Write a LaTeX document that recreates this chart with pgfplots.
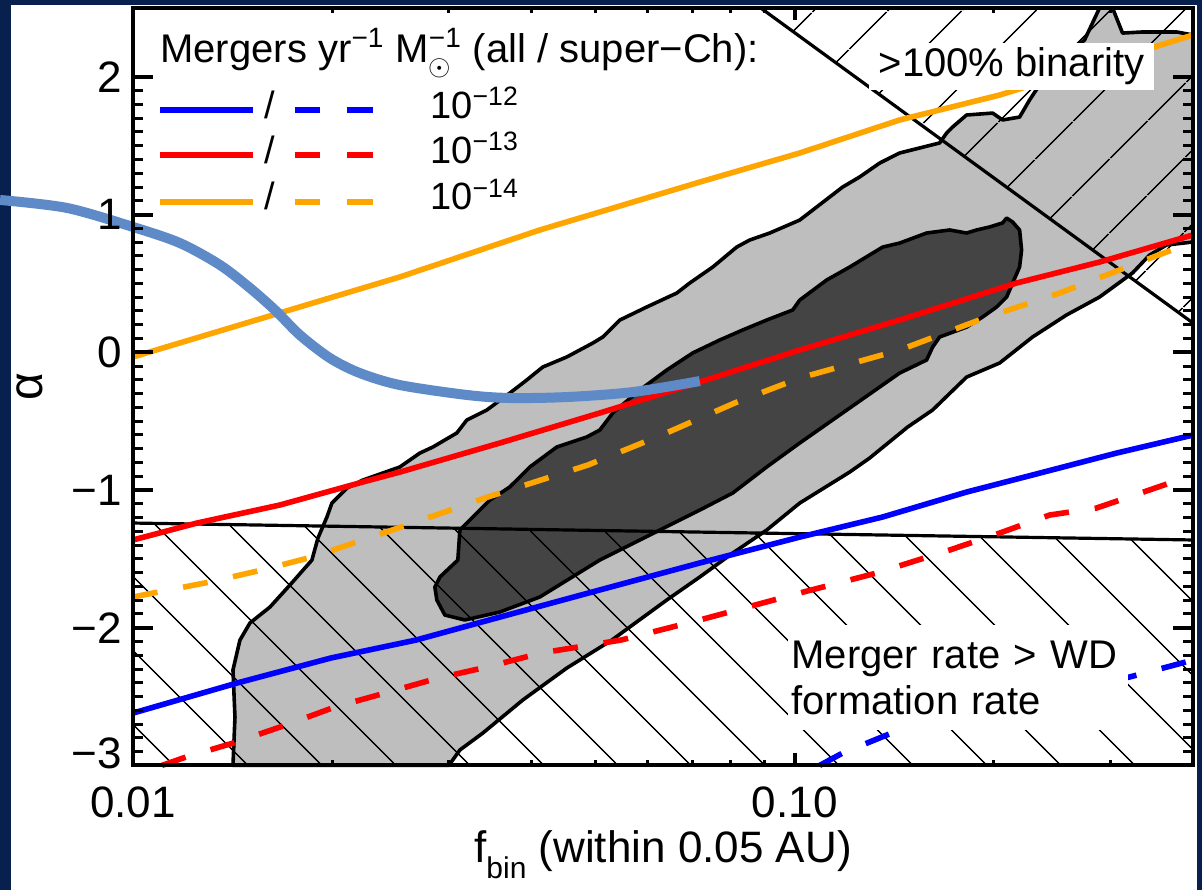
\documentclass[border=0pt]{standalone}
\usepackage{pgfplots}
\pgfplotsset{compat=1.18}
\usepackage{fontspec}
\setmainfont{Liberation Sans}
\usetikzlibrary{patterns.meta}
\definecolor{navybg}{RGB}{8,32,78}
\definecolor{lgray}{RGB}{190,190,190}
\definecolor{dgray}{RGB}{68,68,68}
\definecolor{orng}{RGB}{255,165,0}
\definecolor{steel}{RGB}{94,139,200}
\begin{document}
\begin{tikzpicture}
\fill[navybg] (0,0) rectangle (601pt,445pt);
\fill[white] (5.5pt,0) rectangle (598.5pt,442.5pt);
\path[use as bounding box] (0,0) rectangle (601pt,445pt);
\begin{axis}[
 at={(66.5pt,62.3pt)}, anchor=south west,
 scale only axis, width=530pt, height=378.7pt,
 xmin=-2, xmax=-0.398, ymin=-3, ymax=2.5,
 clip=false, axis on top,
 xtick=\empty,
 ytick={-3,-2,-1,0,1,2},
 yticklabels={\raisebox{12pt}{−3},−2,−1,0,1,2},
 minor y tick num=9,
 major tick length=10pt, minor tick length=5pt,
 tick align=inside,
 major tick style={line width=2pt,black},
 minor tick style={line width=1.5pt,black},
 axis line style={line width=2pt},
 yticklabel style={font=\fontsize{22pt}{22pt}\selectfont, xshift=-2pt},
 ylabel={α},
 ylabel style={font=\fontsize{24pt}{24pt}\selectfont, at={(axis description cs:-0.097,0.5)}, anchor=center},
]
% outer region
\addplot[fill=lgray, draw=black, line width=1.8pt, line join=round] coordinates {
(-1.8489,-3.000) (-1.8459,-2.649) (-1.8489,-2.307) (-1.8384,-2.090) (-1.8233,-1.966) (-1.7930,-1.850) (-1.7628,-1.690) (-1.7296,-1.509) (-1.7205,-1.349) (-1.7069,-1.196) (-1.6994,-1.095) (-1.6767,-0.986) (-1.6526,-0.928) (-1.5967,-0.833) (-1.5665,-0.732) (-1.5468,-0.688) (-1.5106,-0.586) (-1.4955,-0.492) (-1.4652,-0.419) (-1.4305,-0.296) (-1.4048,-0.201) (-1.3807,-0.107) (-1.3444,-0.034) (-1.3051,0.067) (-1.2900,0.111) (-1.2643,0.234) (-1.2235,0.329) (-1.1782,0.430) (-1.1586,0.503) (-1.1238,0.619) (-1.0876,0.764) (-1.0680,0.815) (-1.0377,0.866) (-0.9924,0.960) (-0.9275,1.200) (-0.9018,1.273) (-0.8716,1.374) (-0.8414,1.447) (-0.7809,1.520) (-0.7704,1.592) (-0.7613,1.636) (-0.7402,1.723) (-0.7009,1.737) (-0.6858,1.687) (-0.6601,1.708) (-0.6450,1.832) (-0.6148,2.050) (-0.5619,2.268) (-0.5393,2.5) (-0.5196,2.5) (-0.5045,2.318) (-0.4743,2.326) (-0.4229,2.326) (-0.398,2.304) (-0.398,0.801) (-0.4380,0.779) (-0.4637,0.706) (-0.4894,0.576) (-0.5393,0.401) (-0.5891,0.271) (-0.6405,0.111) (-0.6903,-0.078) (-0.7402,-0.180) (-0.7915,-0.419) (-0.8293,-0.543) (-0.8867,-0.768) (-0.9169,-0.870) (-0.9924,-1.095) (-1.0423,-1.291) (-1.0936,-1.458) (-1.1435,-1.632) (-1.1933,-1.799) (-1.2764,-2.090) (-1.3444,-2.293) (-1.4109,-2.525) (-1.4713,-2.765) (-1.5060,-2.888) (-1.5226,-3.000)
} -- cycle;
% inner region
\addplot[fill=dgray, draw=black, line width=1.8pt, line join=round] coordinates {
(-1.5408,-1.799) (-1.5438,-1.705) (-1.5362,-1.632) (-1.5091,-1.509) (-1.5060,-1.291) (-1.4607,-1.073) (-1.4305,-0.978) (-1.4003,-0.833) (-1.3595,-0.688) (-1.3142,-0.615) (-1.2946,-0.565) (-1.2749,-0.441) (-1.2341,-0.274) (-1.1933,-0.129) (-1.1541,-0.005) (-1.1133,0.089) (-1.0785,0.162) (-1.0423,0.234) (-1.0030,0.307) (-0.9924,0.379) (-0.9516,0.525) (-0.9169,0.619) (-0.8670,0.764) (-0.8414,0.793) (-0.8006,0.866) (-0.7658,0.888) (-0.7402,0.866) (-0.7251,0.888) (-0.7054,0.910) (-0.6858,0.939) (-0.6797,0.975) (-0.6707,0.946) (-0.6601,0.888) (-0.6571,0.743) (-0.6601,0.619) (-0.6797,0.401) (-0.6948,0.329) (-0.7160,0.256) (-0.7402,0.183) (-0.7809,0.111) (-0.7915,0.038) (-0.8006,-0.056) (-0.8414,-0.151) (-0.9169,-0.405) (-0.9924,-0.659) (-1.0423,-0.833) (-1.0936,-1.022) (-1.1435,-1.146) (-1.2039,-1.291) (-1.2946,-1.509) (-1.3852,-1.777) (-1.4456,-1.886) (-1.4985,-1.944) (-1.5287,-1.908)
} -- cycle;
% excluded regions (hatched)
\addplot[draw=none, pattern={Lines[angle=-45,distance=26.5pt,line width=0.8pt]}] coordinates {(-2,-1.240) (-0.398,-1.363) (-0.398,-3) (-2,-3)} -- cycle;
\addplot[draw=none, pattern={Lines[angle=45,distance=26.5pt,line width=0.8pt]}] coordinates {(-1.0513,2.5) (-0.398,2.5) (-0.398,0.212)} -- cycle;
\addplot[black, line width=1.6pt] coordinates {(-2,-1.240) (-0.398,-1.363)};
\addplot[black, line width=1.6pt] coordinates {(-1.0513,2.5) (-0.398,0.212)};
% merger-rate curves
\addplot[blue, line width=2.8pt] coordinates {(-2,-2.620) (-1.8429,-2.402) (-1.7009,-2.220) (-1.5725,-2.090) (-1.4456,-1.923) (-1.2946,-1.726) (-1.1435,-1.530) (-0.9924,-1.342) (-0.8670,-1.196) (-0.7402,-1.015) (-0.6405,-0.891) (-0.5136,-0.732) (-0.398,-0.601)};
\addplot[red, line width=2.8pt] coordinates {(-2,-1.363) (-1.9033,-1.240) (-1.7779,-1.109) (-1.6526,-0.942) (-1.5967,-0.870) (-1.4456,-0.659) (-1.2946,-0.441) (-1.1435,-0.216) (-0.9924,0.016) (-0.8414,0.234) (-0.6646,0.503) (-0.5393,0.655) (-0.398,0.852)};
\addplot[orng, line width=2.8pt] coordinates {(-2,-0.034) (-1.5967,0.547) (-1.3852,0.888) (-1.1435,1.236) (-0.9924,1.447) (-0.8414,1.687) (-0.6903,1.868) (-0.398,2.304)};
\addplot[orng, line width=2.8pt, dash pattern=on 12.5pt off 13pt] coordinates {(-2,-1.777) (-1.8837,-1.668) (-1.8051,-1.581) (-1.7296,-1.487) (-1.6526,-1.363) (-1.5770,-1.240) (-1.4637,-1.051) (-1.3127,-0.819) (-1.2009,-0.601) (-1.0906,-0.368) (-0.9924,-0.187) (-0.8414,0.016) (-0.7130,0.249) (-0.5997,0.430) (-0.4894,0.634) (-0.398,0.801)};
\addplot[red, line width=2.8pt, dash pattern=on 12.5pt off 13pt] coordinates {(-1.9562,-3) (-1.9199,-2.939) (-1.8489,-2.838) (-1.7689,-2.707) (-1.6949,-2.576) (-1.6133,-2.467) (-1.5393,-2.366) (-1.4652,-2.286) (-1.3837,-2.184) (-1.2628,-2.090) (-1.1435,-1.944) (-0.9924,-1.748) (-0.8761,-1.603) (-0.7658,-1.436) (-0.6903,-1.313) (-0.6148,-1.182) (-0.5438,-1.131) (-0.4637,-1.000) (-0.398,-0.891)};
\addplot[blue, line width=2.8pt, dash pattern=on 12.5pt off 13pt] coordinates {(-0.9622,-3) (-0.9275,-2.910) (-0.8535,-2.765) (-0.6903,-2.525) (-0.4939,-2.358) (-0.398,-2.235)};
% highlighted track
\addplot[steel, line width=5pt, smooth, tension=0.5] coordinates {(-2.2009,1.106) (-2.0997,1.048) (-2,0.910) (-1.9290,0.793) (-1.8686,0.634) (-1.8233,0.467) (-1.7855,0.307) (-1.7477,0.125) (-1.7024,-0.042) (-1.6571,-0.151) (-1.5967,-0.238) (-1.4955,-0.310) (-1.4305,-0.332) (-1.3444,-0.325) (-1.2447,-0.289) (-1.1435,-0.209)};
% annotations
\node[fill=white, inner sep=0pt, minimum width=142.5pt, minimum height=23.5pt, font=\fontsize{20pt}{24pt}\selectfont] at (axis cs:-0.6722,2.075) {>100\% binarity};
\node[fill=white, inner sep=0pt, minimum width=170pt, minimum height=52.5pt, text width=166pt, align=left, font=\fontsize{20pt}{23pt}\selectfont] at (axis cs:-0.7538,-2.362) {Merger rate > WD\\formation rate};
% legend
\node[anchor=base west, inner sep=0pt, font=\fontsize{20pt}{23pt}\selectfont] at (rel axis cs:0.0255,0.9274) {Mergers yr\textsuperscript{−1} M\rlap{\raisebox{-6.5pt}{\fontsize{14pt}{14pt}\selectfont$\odot$}}\textsuperscript{−1} (all / super−Ch):};
\draw[blue, line width=2.8pt] (rel axis cs:0.0255,0.8653) -- (rel axis cs:0.1132,0.8653);
\draw[blue, line width=2.8pt] (rel axis cs:0.1528,0.8653) -- (rel axis cs:0.1764,0.8653);
\draw[blue, line width=2.8pt] (rel axis cs:0.2019,0.8653) -- (rel axis cs:0.2264,0.8653);
\draw[red, line width=2.8pt] (rel axis cs:0.0255,0.8059) -- (rel axis cs:0.1132,0.8059);
\draw[red, line width=2.8pt] (rel axis cs:0.1528,0.8059) -- (rel axis cs:0.1764,0.8059);
\draw[red, line width=2.8pt] (rel axis cs:0.2019,0.8059) -- (rel axis cs:0.2264,0.8059);
\draw[orng, line width=2.8pt] (rel axis cs:0.0255,0.7439) -- (rel axis cs:0.1132,0.7439);
\draw[orng, line width=2.8pt] (rel axis cs:0.1528,0.7439) -- (rel axis cs:0.1764,0.7439);
\draw[orng, line width=2.8pt] (rel axis cs:0.2019,0.7439) -- (rel axis cs:0.2264,0.7439);
\node[anchor=base, inner sep=0pt, font=\fontsize{19pt}{22pt}\selectfont] at (rel axis cs:0.1292,0.8547) {/};
\node[anchor=base, inner sep=0pt, font=\fontsize{19pt}{22pt}\selectfont] at (rel axis cs:0.1292,0.7953) {/};
\node[anchor=base, inner sep=0pt, font=\fontsize{19pt}{22pt}\selectfont] at (rel axis cs:0.1292,0.7333) {/};
\node[anchor=base west, inner sep=0pt, font=\fontsize{19pt}{22pt}\selectfont] at (rel axis cs:0.2802,0.8547) {10\textsuperscript{−12}};
\node[anchor=base west, inner sep=0pt, font=\fontsize{19pt}{22pt}\selectfont] at (rel axis cs:0.2802,0.7953) {10\textsuperscript{−13}};
\node[anchor=base west, inner sep=0pt, font=\fontsize{19pt}{22pt}\selectfont] at (rel axis cs:0.2802,0.7333) {10\textsuperscript{−14}};
\end{axis}
\begin{axis}[
 at={(66.5pt,62.3pt)}, anchor=south west,
 scale only axis, width=530pt, height=378.7pt,
 xmin=-2, xmax=-0.398, ymin=-3, ymax=2.5,
 ytick=\empty,
 xtick={-2,-1}, xticklabels={0.01,0.10},
 minor xtick={-1.69897,-1.52288,-1.39794,-1.30103,-1.22185,-1.15490,-1.09691,-1.04576,-0.69897,-0.52288},
 major tick length=6pt, minor tick length=2.5pt,
 tick align=inside,
 major tick style={line width=2pt,black},
 minor tick style={line width=1.5pt,black},
 axis line style={line width=2pt},
 xticklabel style={font=\fontsize{22pt}{22pt}\selectfont, yshift=-7pt},
 xlabel={f\raisebox{-8pt}{\fontsize{15pt}{15pt}\selectfont bin} (within 0.05 AU)},
 xlabel style={font=\fontsize{22pt}{22pt}\selectfont, at={(axis description cs:0.5,-0.118)}, anchor=center},
]
\end{axis}
\end{tikzpicture}
\end{document}
